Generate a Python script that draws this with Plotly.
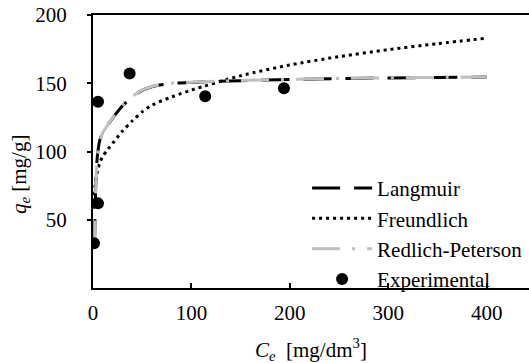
import plotly.graph_objects as go

# Langmuir model curve
ce_langmuir = [1.5, 1.9, 2.3, 2.8, 3.4, 4.5, 6.8, 10, 15, 20, 30, 40, 50, 65, 80, 100,
               150, 200, 250, 300, 350, 400]
q_langmuir = [30, 45, 62, 75, 86, 97, 108, 114, 119.5, 124.5, 133.5, 140, 144.8, 148.3,
              149.8, 150.6, 151.9, 152.8, 153.4, 153.9, 154.2, 154.5]
# Redlich-Peterson model curve
ce_redlich = [1.5, 1.9, 2.3, 2.8, 3.4, 4.5, 6.8, 10, 15, 20, 30, 40, 50, 65, 80, 100,
              150, 200, 250, 300, 350, 400]
q_redlich = [29, 44, 61, 74, 85.5, 96.5, 107.5, 113.8, 119.5, 124.8, 133.8, 140.3, 145, 148.5,
             150, 150.8, 152, 152.9, 153.5, 154, 154.3, 154.6]
# Freundlich model curve
ce_freundlich = [0.5, 1, 2, 3, 5, 7, 10, 15, 20, 30, 40, 50, 60, 80, 100, 150, 200, 250,
                 300, 350, 400]
q_freundlich = [58, 66, 74, 80, 87, 92, 96.5, 101.5, 106, 115, 122.5, 129, 134, 140, 145,
                155.5, 163.4, 169.5, 174.6, 179, 183]
# Experimental points
ce_exp = [1.0, 5.1, 5.1, 37.2, 114, 194]
q_exp = [32.7, 62, 136.4, 157.2, 140.5, 146.4]

FONT = "Liberation Serif, Times New Roman, serif"
fig = go.Figure()
fig.add_trace(go.Scatter(x=ce_langmuir, y=q_langmuir, mode="lines", name="Langmuir",
                         line=dict(color="black", width=3, dash="28px,14px",
                                   shape="spline", smoothing=0.8)))
fig.add_trace(go.Scatter(x=ce_freundlich, y=q_freundlich, mode="lines", name="Freundlich",
                         line=dict(color="black", width=3, dash="3px,4px",
                                   shape="spline", smoothing=0.8)))
fig.add_trace(go.Scatter(x=ce_redlich, y=q_redlich, mode="lines", name="Redlich-Peterson",
                         line=dict(color="#BFBFBF", width=3, dash="28px,12px,3px,12px",
                                   shape="spline", smoothing=0.8)))
fig.add_trace(go.Scatter(x=ce_exp, y=q_exp, mode="markers", name="Experimental",
                         marker=dict(color="black", size=12)))

fig.update_layout(
    width=529, height=363,
    margin=dict(l=93, r=0, t=15, b=75, autoexpand=False),
    paper_bgcolor="white", plot_bgcolor="white",
    font=dict(family=FONT, size=21, color="black"),
    showlegend=True,
    legend=dict(x=0.491, y=0.44, xanchor="left", yanchor="top",
                bgcolor="rgba(0,0,0,0)", font=dict(size=21, family=FONT),
                itemwidth=60, tracegroupgap=0),
    xaxis=dict(range=[0, 443], tickvals=[0, 100, 200, 300, 400], showgrid=False,
               zeroline=False, showline=True, linecolor="black", linewidth=2,
               mirror=True, ticks="inside", ticklen=5, tickwidth=1.5, tickcolor="black",
               ticklabelstandoff=5,
               automargin=False, tickfont=dict(size=21, family=FONT)),
    yaxis=dict(range=[0, 200], tickvals=[50, 100, 150, 200], showgrid=False,
               zeroline=False, showline=True, linecolor="black", linewidth=2,
               ticks="outside", ticklen=4, tickwidth=1.5, tickcolor="black",
               ticklabelstandoff=16,
               automargin=False, tickfont=dict(size=21, family=FONT)),
    annotations=[
        dict(text="<i>C</i><sub><i>e</i></sub>  [mg/dm<sup>3</sup>]", xref="paper", yref="paper",
             x=0.5, y=-61/273, xanchor="center", yanchor="middle", showarrow=False,
             font=dict(size=21, family=FONT)),
        dict(text="<i>q</i><sub><i>e</i></sub> [mg/g]", xref="paper", yref="paper",
             x=-73/436, y=(288-175)/273, xanchor="center", yanchor="middle", showarrow=False,
             textangle=-90, font=dict(size=21, family=FONT)),
    ],
)
fig.write_html("out.html", config={"displayModeBar": False},
               post_script="document.body.style.margin='0';")
